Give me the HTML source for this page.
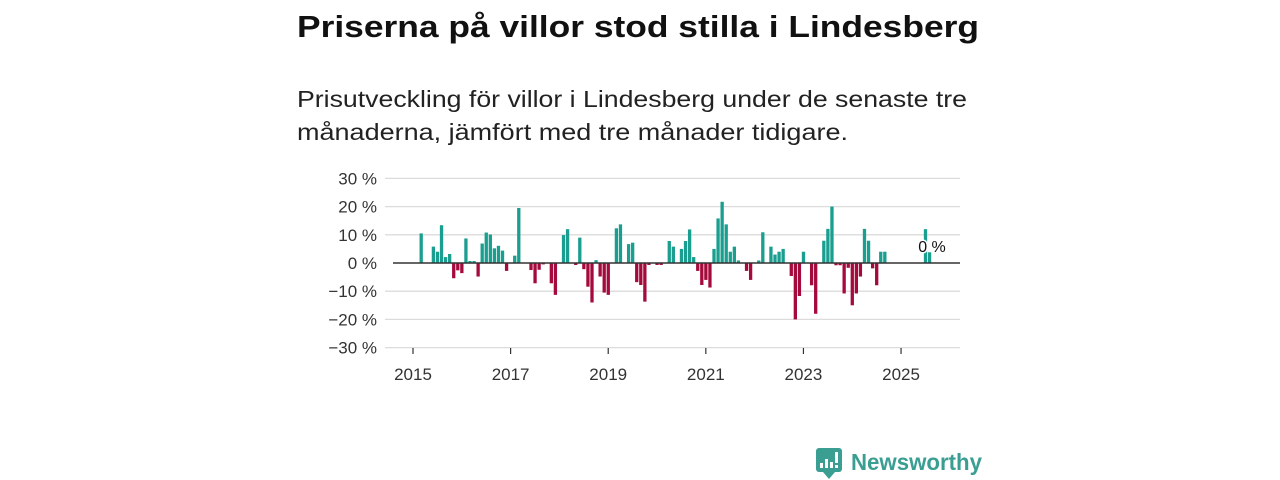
<!DOCTYPE html>
<html><head><meta charset="utf-8"><style>
html,body{margin:0;padding:0;background:#fff;}
svg{display:block;font-family:"Liberation Sans",sans-serif;}
</style></head><body>
<svg id="chart" width="1280" height="480" viewBox="0 0 1280 480">
<text x="297" y="37" font-size="31" font-weight="bold" fill="#111" textLength="682" lengthAdjust="spacingAndGlyphs">Priserna på villor stod stilla i Lindesberg</text>
<text x="297" y="107" font-size="23" fill="#222" textLength="670" lengthAdjust="spacingAndGlyphs">Prisutveckling för villor i Lindesberg under de senaste tre</text>
<text x="297" y="140" font-size="23" fill="#222" textLength="551" lengthAdjust="spacingAndGlyphs">månaderna, jämfört med tre månader tidigare.</text>
<g id="grid"></g>
<g id="bars"></g>
<g id="axes"></g>
<g>
<rect x="816" y="448" width="26" height="24" rx="3" fill="#3a9e93"/>
<polygon points="823,472 835,472 829,479" fill="#3a9e93"/>
<rect x="820" y="463" width="3" height="5" fill="#fff"/><rect x="825" y="459" width="3" height="9" fill="#fff"/><rect x="830" y="462" width="3" height="6" fill="#fff"/><rect x="835" y="452" width="3" height="11" fill="#fff"/><rect x="835" y="465" width="3" height="3" fill="#fff"/>
<text x="851" y="470" font-size="23" font-weight="bold" fill="#3a9e93" textLength="131" lengthAdjust="spacingAndGlyphs">Newsworthy</text>
</g>
</svg>
<script>
const months = [2,5,6,7,8,9,10,11,12,13,14,15,16,17,18,19,20,21,22,23,25,26,29,30,31,32,34,35,37,38,40,41,42,43,44,45,46,47,48,50,51,53,54,55,56,57,58,60,61,63,64,66,67,68,69,70,71,72,73,74,75,76,77,78,79,80,82,83,85,86,88,89,90,91,93,94,95,96,98,99,101,102,103,104,105,106,107,108,109,110,111,112,113,114,115,116,126,127,128];
const values = [10.5,5.8,4,13.4,2.1,3.2,-5.4,-2.6,-3.6,8.7,0.7,0.7,-4.8,6.9,10.8,10.1,5.2,6.1,4.4,-2.8,2.6,19.5,-2.5,-7.2,-2.4,-0.5,-7.2,-11.3,9.9,12,-0.7,9,-2.2,-8.4,-14,1,-4.8,-10.5,-11.3,12.3,13.7,6.7,7.2,-6.8,-7.8,-13.7,-0.7,-0.7,-0.7,7.8,5.8,5,7.8,11.9,2.1,-2.8,-7.8,-6,-8.7,5,15.8,21.7,13.7,4,5.8,0.9,-2.8,-6,0.9,10.9,5.8,3,4,5,-4.6,-20,-11.7,4,-7.9,-18,7.9,12.1,20,-0.8,-0.8,-10.8,-1.7,-15,-10.8,-4.8,12.1,7.9,-1.9,-7.9,4,4,12,3.8,0];
const yTicks = [30,20,10,0,-10,-20,-30];
const xTicks = [2015,2017,2019,2021,2023,2025];
const NS='http://www.w3.org/2000/svg';
const y = v => 263 - v*2.82;
const xm = m => 413 + m*4.067;
const xy = yr => xm((yr-2015)*12);
function mk(tag, attrs, parent){const e=document.createElementNS(NS,tag);for(const k in attrs)e.setAttribute(k,attrs[k]);parent.appendChild(e);return e;}
const grid=document.getElementById('grid'), bars=document.getElementById('bars'), axes=document.getElementById('axes');
yTicks.forEach(t=>{
  if(t!==0){const l=mk('line',{x1:385,x2:960,y1:y(t),y2:y(t),stroke:'#dcdcdc','stroke-width':1.3},grid);
  
  }
  const tx=mk('text',{x:377,y:y(t)+6,'font-size':17,fill:'#333','text-anchor':'end'},axes);
  tx.textContent=(t<0?'\u2212'+(-t):t)+' %';
  
  
});
months.forEach((m,i)=>{
  const v=values[i]; if(v===0) return;
  const r=mk('rect',{x:xm(m)-1.6,width:3.3,y:Math.min(y(v),y(0)),height:Math.abs(y(v)-y(0)),fill:v>0?'#1a9e8f':'#a50a3c'},bars);
  
  
});
const z=mk('line',{x1:393,x2:960,y1:y(0),y2:y(0),stroke:'#333','stroke-width':1.6},axes);


xTicks.forEach(yr=>{
  const tk=mk('line',{x1:xy(yr),x2:xy(yr),y1:348,y2:354,stroke:'#333','stroke-width':1.2},axes);
  
  
  const tx=mk('text',{x:xy(yr),y:380,'font-size':17,fill:'#333','text-anchor':'middle'},axes);
  tx.textContent=yr;
  
  
});
const lbl=mk('text',{x:932,y:252,'font-size':16,fill:'#111','text-anchor':'middle',stroke:'#fff','stroke-width':3,'paint-order':'stroke'},axes);
lbl.textContent='0 %';


</script>
</body></html>
